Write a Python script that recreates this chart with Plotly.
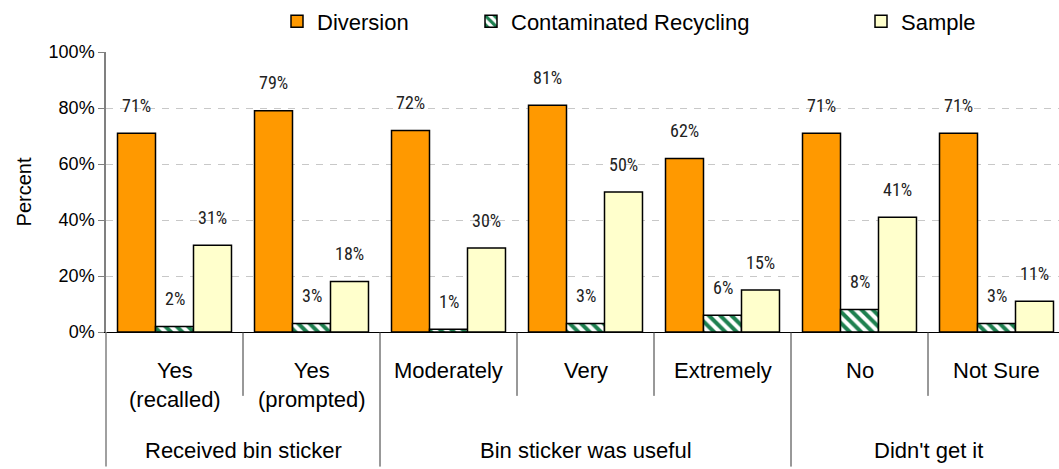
import plotly.graph_objects as go

# Survey results by sticker status
sub_labels = ["Yes<br>(recalled)", "Yes<br>(prompted)", "Moderately", "Very",
              "Extremely", "No", "Not Sure"]
group_labels = ["Received bin sticker", "Bin sticker was useful", "Didn't get it"]
group_spans = [(0, 1), (2, 4), (5, 6)]

diversion = [71, 79, 72, 81, 62, 71, 71]
contaminated = [2, 3, 1, 3, 6, 8, 3]
sample = [31, 18, 30, 50, 15, 41, 11]

y_ticks = [0, 20, 40, 60, 80, 100]
y_tick_text = [f"{v}%" for v in y_ticks]

W, H = 1059, 469
ML, MT, MB = 106, 47, 137
CAT_PX = 137.0
plot_w = W - ML
x_min = -0.5
x_max = x_min + plot_w / CAT_PX
bargap = 0.168

FONT = "Liberation Sans, Arial, sans-serif"
NARROW = "Liberation Sans Narrow, Arial Narrow, Roboto Condensed, sans-serif"

x = list(range(len(sub_labels)))

fig = go.Figure()
fig.add_trace(go.Bar(
    x=x, y=diversion, name="Diversion", legend="legend",
    marker=dict(color="#FF9900", line=dict(color="black", width=1.5)),
))
fig.add_trace(go.Bar(
    x=x, y=contaminated, name="Contaminated Recycling", legend="legend2",
    marker=dict(color="white", line=dict(color="black", width=1.5),
                pattern=dict(shape="\\", fgcolor="#1E8050", bgcolor="white",
                             fgopacity=1, size=8, solidity=0.5)),
))
fig.add_trace(go.Bar(
    x=x, y=sample, name="Sample", legend="legend3",
    marker=dict(color="#FFFFCC", line=dict(color="black", width=1.5)),
))

# value labels above every bar
bar_w = (1 - bargap) / 3
offsets = [-bar_w, 0.0, bar_w]
annotations = []
for series, off in zip([diversion, contaminated, sample], offsets):
    for i, v in enumerate(series):
        annotations.append(dict(
            x=i + off, y=v, xref="x", yref="y", text=f"{v}%",
            showarrow=False, yanchor="middle", yshift=28,
            font=dict(family=NARROW, size=18, color="#222222"),
        ))

plot_h = H - MT - MB


def py_to_paper(py):
    return (H - MB - py) / plot_h


def xv_to_paper(xv):
    return (xv - x_min) / (x_max - x_min)


# category labels (two tiers)
for i, lab in enumerate(sub_labels):
    annotations.append(dict(
        x=i, y=py_to_paper(356), xref="x", yref="paper", text=lab,
        showarrow=False, yanchor="top", xanchor="center",
        font=dict(family=FONT, size=22, color="black"),
    ))
for lab, (a, b) in zip(group_labels, group_spans):
    annotations.append(dict(
        x=(a + b) / 2, y=py_to_paper(453), xref="x", yref="paper", text=lab,
        showarrow=False, yanchor="middle", xanchor="center",
        font=dict(family=FONT, size=22, color="black"),
    ))

# divider lines under the axis
shapes = []
y_bottom = py_to_paper(H)
y_short = py_to_paper(397)
shapes.append(dict(type="line", xref="paper", yref="paper",
                   x0=0, x1=0, y0=0, y1=y_bottom,
                   line=dict(color="#808080", width=1.5)))
for (a, b) in group_spans[1:]:
    xp = xv_to_paper(a - 0.5)
    shapes.append(dict(type="line", xref="paper", yref="paper",
                       x0=xp, x1=xp, y0=0, y1=y_bottom,
                       line=dict(color="#333333", width=1)))
for (a, b) in group_spans:
    for k in range(a, b):
        xp = xv_to_paper(k + 0.5)
        shapes.append(dict(type="line", xref="paper", yref="paper",
                           x0=xp, x1=xp, y0=0, y1=y_short,
                           line=dict(color="#333333", width=1)))


def legend_box(left_px):
    return dict(
        x=(left_px - ML) / plot_w, xanchor="left",
        y=1 + (MT - 16) / plot_h, yanchor="middle",
        orientation="h", bgcolor="rgba(0,0,0,0)",
        font=dict(family=FONT, size=22, color="black"),
    )


fig.update_layout(
    width=W, height=H,
    margin=dict(l=ML, r=0, t=MT, b=MB, pad=0),
    paper_bgcolor="white", plot_bgcolor="white",
    font=dict(family=FONT, color="black"),
    barmode="group", bargap=bargap, bargroupgap=0,
    showlegend=True,
    legend=legend_box(277),
    legend2=legend_box(471),
    legend3=legend_box(861),
    xaxis=dict(
        range=[x_min, x_max], showticklabels=False, ticks="",
        showgrid=False, zeroline=False,
        showline=True, linecolor="black", linewidth=1,
    ),
    yaxis=dict(
        range=[0, 100], tickmode="array", tickvals=y_ticks, ticktext=y_tick_text,
        tickfont=dict(family=FONT, size=18, color="black"),
        ticks="outside", ticklen=6, tickcolor="#808080",
        showgrid=True, gridcolor="#C8C8C8", griddash="7px,7px", gridwidth=1,
        zeroline=False, showline=True, linecolor="#808080", linewidth=1.5,
        title=dict(text="Percent", font=dict(family=FONT, size=20, color="black"),
                   standoff=12),
    ),
    annotations=annotations,
    shapes=shapes,
)

fig.write_html("out.html")
